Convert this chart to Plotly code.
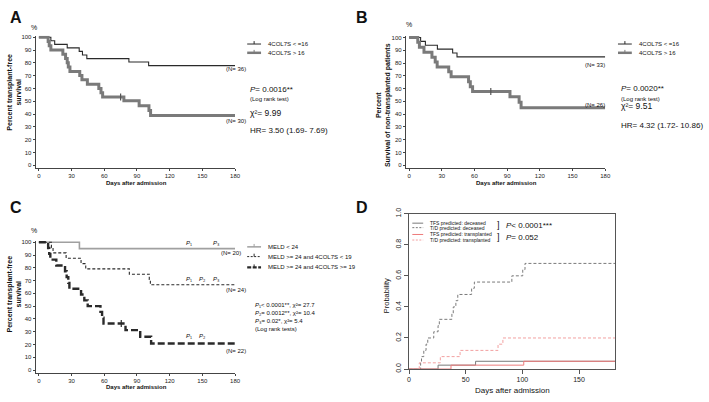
import plotly.graph_objects as go

W, H = 709, 402
FONT = "Liberation Sans, Arial, DejaVu Sans, sans-serif"

# ---------------- data ----------------
# Panel A: transplant-free survival (%)
A_low_t = [0, 11, 14.5, 26, 37, 40, 44, 82.6, 100.7, 180]
A_low_s = [100, 97.2, 94.4, 91.7, 88.9, 86.1, 83.3, 80.6, 77.8, 77.8]
A_high_t = [0, 8.5, 9.5, 11, 22, 24.5, 26, 27, 28.5, 37.5, 39.5, 44.5, 55, 57, 58.5, 78, 92, 101, 102.5, 180]
A_high_s = [100, 96.7, 93.3, 90, 86.7, 83.3, 80, 76.7, 73.3, 70, 66.7, 63.3, 60, 56.7, 53.3, 50.3, 46.5, 42.7, 38.9, 38.9]
A_cens_t = [75]
A_cens_s = [53.3]

# Panel B: survival of non-transplanted patients (%)
B_low_t = [0, 10.6, 15, 26, 40, 44, 180]
B_low_s = [100, 97, 93.9, 90.9, 87.9, 84.8, 84.8]
B_high_t = [0, 8, 9.5, 13.7, 21, 24, 25.8, 36.4, 38.6, 54.6, 56.2, 58.3, 92.6, 101, 102.8, 180]
B_high_s = [100, 96.2, 92.3, 88.5, 84.6, 80.8, 76.9, 73.1, 69.2, 65.4, 61.5, 57.7, 53.6, 49.3, 45, 45]
B_cens_t = [75]
B_cens_s = [57.7]

# Panel C: transplant-free survival by MELD / 4COL7S (%)
C_low_t = [0, 37.2, 180]
C_low_s = [100, 95, 95]
C_mid_t = [0, 11.5, 13, 25, 38.7, 43, 83, 101.3, 102.3, 180]
C_mid_s = [100, 95.8, 91.7, 87.5, 83.3, 79.2, 75, 70.8, 66.7, 66.7]
C_high_t = [0, 8.5, 9.5, 10.5, 16, 24, 25.5, 27, 28, 38.7, 41.7, 44.8, 56.5, 58, 59.3, 79.5, 93, 103, 180]
C_high_s = [100, 95.5, 90.9, 86.4, 81.8, 77.3, 72.7, 68.2, 63.6, 59.1, 54.5, 50, 45.5, 40.9, 36.4, 31.2, 26, 20.8, 20.8]
C_cens_t = [75.6]
C_cens_s = [36.4]

# Panel D: cumulative probability
D_tfs_dec_t = [0, 25.6, 58.7, 181.7]
D_tfs_dec_p = [0, 0.025, 0.05, 0.05]
D_td_dec_t = [0, 10.2, 11, 13, 15, 16.5, 21.8, 25.6, 26.7, 37.8, 39, 41.3, 43, 55.2, 57.6, 90.7, 100.3, 102.3, 181.7]
D_td_dec_p = [0, 0.04, 0.08, 0.12, 0.16, 0.20, 0.24, 0.28, 0.32, 0.36, 0.40, 0.44, 0.48, 0.52, 0.56, 0.60, 0.64, 0.68, 0.68]
D_tfs_tx_t = [0, 37, 101.2, 181.7]
D_tfs_tx_p = [0, 0.025, 0.05, 0.05]
D_td_tx_t = [0, 9, 27.6, 45, 78.5, 82.8, 181.7]
D_td_tx_p = [0, 0.04, 0.08, 0.12, 0.16, 0.2, 0.2]

KM_XTICKS = [0, 30, 60, 90, 120, 150, 180]
KM_YTICKS = list(range(0, 101, 10))
D_XTICKS = [0, 50, 100, 150]
D_YTICKS = [0.0, 0.2, 0.4, 0.6, 0.8, 1.0]

# ---------------- helpers ----------------
def px(x):
    return x / W

def py(y):
    return 1 - y / H

BLACK = "#2a2a2a"
GRAY = "#7a7a7a"
LGRAY = "#a0a0a0"
RED = "#ee7b7b"
RED2 = "#f2a0a0"

fig = go.Figure()

def km(t, s, xa, ya, color, width, dash="solid"):
    fig.add_trace(go.Scatter(x=t, y=s, xaxis=xa, yaxis=ya, mode="lines",
                             line=dict(color=color, width=width, dash=dash, shape="hv"),
                             showlegend=False, hoverinfo="skip"))

def cens(t, s, xa, ya, color):
    fig.add_trace(go.Scatter(x=t, y=s, xaxis=xa, yaxis=ya, mode="markers",
                             marker=dict(symbol="line-ns-open", size=5, color=color,
                                         line=dict(color=color, width=1.2)),
                             showlegend=False, hoverinfo="skip"))

# A
km(A_low_t, A_low_s, "x", "y", BLACK, 1.1)
km(A_high_t, A_high_s, "x", "y", GRAY, 3)
cens(A_cens_t, A_cens_s, "x", "y", "#555")
# B
km(B_low_t, B_low_s, "x2", "y2", BLACK, 1.1)
km(B_high_t, B_high_s, "x2", "y2", GRAY, 3)
cens(B_cens_t, B_cens_s, "x2", "y2", "#555")
# C
km(C_low_t, C_low_s, "x3", "y3", LGRAY, 1.6)
km(C_mid_t, C_mid_s, "x3", "y3", BLACK, 1.1, "3px,2px")
km(C_high_t, C_high_s, "x3", "y3", BLACK, 2.4, "7px,3px")
cens(C_cens_t, C_cens_s, "x3", "y3", BLACK)
# D
km(D_tfs_dec_t, D_tfs_dec_p, "x4", "y4", GRAY, 1)
km(D_td_dec_t, D_td_dec_p, "x4", "y4", GRAY, 1, "3px,2px")
km(D_tfs_tx_t, D_tfs_tx_p, "x4", "y4", RED, 1)
km(D_td_tx_t, D_td_tx_p, "x4", "y4", RED2, 1, "3px,2px")

# ---------------- axes ----------------
def km_axes(x0, y100, y0):
    ppd = (235.7 - 37.3) / 180.0
    ppp = (y0 - y100) / 100.0
    xd = [px(x0 - 2.5 * ppd), px(x0 + 180 * ppd)]
    yd = [py(y0 + 2.0 * ppp), py(y100 - 1.2 * ppp)]
    common = dict(showline=True, linecolor="#444", linewidth=1, ticks="outside",
                  ticklen=2.5, tickwidth=1, tickcolor="#444", showgrid=False,
                  zeroline=False, tickfont=dict(size=6, family=FONT, color="#222"))
    xa = dict(domain=xd, range=[-2.5, 180], tickvals=KM_XTICKS, **common)
    ya = dict(domain=yd, range=[-2.0, 101.2], tickvals=KM_YTICKS, **common)
    return xa, ya

xa1, ya1 = km_axes(37.3, 32, 163.3)
xa2, ya2 = km_axes(411.7, 32.3, 163.3)
xa3, ya3 = km_axes(37.3, 242.3, 373.3)
xa1["anchor"] = "y"; ya1["anchor"] = "x"
xa2["anchor"] = "y2"; ya2["anchor"] = "x2"
xa3["anchor"] = "y3"; ya3["anchor"] = "x3"

xa4 = dict(domain=[px(411.7), px(620)], range=[0, 181.7], anchor="y4",
           tickvals=D_XTICKS, showline=True, mirror=True, linecolor="#555", linewidth=1,
           ticks="outside", ticklen=4, tickcolor="#555", showgrid=False, zeroline=False,
           tickfont=dict(size=7, family=FONT, color="#222"))
ya4 = dict(domain=[py(372.3), py(213)], range=[0, 1], anchor="x4",
           tickvals=D_YTICKS, tickformat=".1f", tickangle=-90,
           showline=True, mirror=True, linecolor="#555", linewidth=1,
           ticks="outside", ticklen=4, tickcolor="#555", showgrid=False, zeroline=False,
           tickfont=dict(size=7, family=FONT, color="#222"))

# ---------------- annotations ----------------
anns = []
def ann(x, y, text, size, xanchor="left", yanchor="middle", color="#111", angle=0,
        align="left", bold=False):
    anns.append(dict(x=px(x), y=py(y), xref="paper", yref="paper", text=text,
                     showarrow=False, xanchor=xanchor, yanchor=yanchor, align=align,
                     textangle=angle,
                     font=dict(size=size, family=FONT, color=color,
                               weight="bold" if bold else "normal")))

def dann(x, y, xr, yr, text, size, yshift=0, xanchor="center"):
    anns.append(dict(x=x, y=y, xref=xr, yref=yr, text=text, showarrow=False,
                     xanchor=xanchor, yanchor="bottom", yshift=yshift,
                     font=dict(size=size, family=FONT, color="#111")))

# panel letters
ann(14, 12, "A", 16, "center", bold=True)
ann(364, 12, "B", 16, "center", bold=True)
ann(14, 207, "C", 16, "center", bold=True)
ann(364, 207, "D", 16, "center", bold=True)

# % labels
ann(32, 22, "%", 7, "center")
ann(412, 19, "%", 7, "center")
ann(32, 230, "%", 7, "center")

# axis titles
ann(12, 88, "Percent transplant-free<br>survival", 7, "center", angle=-90, align="center", bold=True)
ann(386, 102, "Percent<br>Survival of non-transplanted patients", 7, "center", angle=-90, align="center", bold=True)
ann(12, 295, "Percent transplant-free<br>survival", 7, "center", angle=-90, align="center", bold=True)
ann(389, 297, "Probability", 7.5, "center", angle=-90)
ann(136, 182, "Days after admission", 6, "center", bold=True)
ann(510, 182, "Days after admission", 6, "center", bold=True)
ann(136, 391, "Days after admission", 6, "center", bold=True)
ann(516, 394, "Days after admission", 8, "center")

# Panel A text
ann(237, 65, "(N= 36)", 6, "center")
ann(237, 118, "(N= 30)", 6, "center")
ann(249, 86, "<i>P</i>= 0.0016**", 8)
ann(249, 95, "(Log rank test)", 6)
ann(249, 110, "χ²= 9.99", 8.5)
ann(249, 128, "HR= 3.50 (1.69- 7.69)", 8)

# Panel B text
ann(600, 61, "(N= 33)", 6, "center")
ann(600, 102, "(N= 26)", 6, "center")
ann(624, 85, "<i>P</i>= 0.0020**", 8)
ann(624, 95, "(Log rank test)", 6)
ann(624, 103, "χ²= 9.51", 8.5)
ann(624, 123, "HR= 4.32 (1.72- 10.86)", 8)

# Panel C text
ann(232, 253, "(N= 20)", 6, "center")
ann(237, 291, "(N= 24)", 6, "center")
ann(237, 354, "(N= 22)", 6, "center")
ann(254, 307, "<i>P</i>₁< 0.0001**, χ²= 27.7", 6)
ann(254, 315, "<i>P</i>₂= 0.0012**, χ²= 10.4", 6)
ann(254, 323, "<i>P</i>₃= 0.02*, χ²= 5.4", 6)
ann(254, 331, "(Log rank tests)", 6)
for d, lab in [(138, "₁"), (163, "₃")]:
    dann(d, 95, "x3", "y3", "<i>P</i>" + lab, 6, 1)
for d, lab in [(138, "₁"), (150, "₂"), (163, "₃")]:
    dann(d, 66.7, "x3", "y3", "<i>P</i>" + lab, 6, 1)
for d, lab in [(138, "₁"), (150, "₂")]:
    dann(d, 20.8, "x3", "y3", "<i>P</i>" + lab, 6, 2)

# Panel D text
ann(502, 225, "]", 9, "center")
ann(508, 225, "<i>P</i>< 0.0001***", 8)
ann(502, 237, "]", 9, "center")
ann(508, 237, "<i>P</i>= 0.052", 8)

# ---------------- manual legends ----------------
shapes = []
def lline(x0, x1, y, color, width, dash="solid", tick=False):
    shapes.append(dict(type="line", xref="paper", yref="paper", x0=px(x0), x1=px(x1),
                       y0=py(y), y1=py(y), line=dict(color=color, width=width, dash=dash)))
    if tick:
        xm = (x0 + x1) / 2
        shapes.append(dict(type="line", xref="paper", yref="paper", x0=px(xm), x1=px(xm),
                           y0=py(y), y1=py(y - 3), line=dict(color=color, width=1)))

# A legend
lline(248, 262, 39, BLACK, 1, tick=True)
lline(248, 262, 48, GRAY, 2.5, tick=True)
ann(267, 39, "4COL7S < =16", 6)
ann(267, 48, "4COL7S > 16", 6)
# B legend
lline(623, 637, 39, BLACK, 1, tick=True)
lline(623, 637, 48, GRAY, 2.5, tick=True)
ann(642, 39, "4COL7S < =16", 6)
ann(642, 48, "4COL7S > 16", 6)
# C legend
lline(248, 262, 247, LGRAY, 1.5, tick=True)
lline(248, 262, 257, BLACK, 1, "2px,1.5px", tick=True)
lline(248, 262, 268, BLACK, 2.2, "4px,1.5px", tick=True)
ann(267, 247, "MELD < 24", 6)
ann(267, 257, "MELD >= 24 and 4COL7S < 19", 6)
ann(267, 268, "MELD >= 24 and 4COL7S >= 19", 6)
# D legend
lline(415, 426, 222.7, GRAY, 1)
lline(415, 426, 227.3, GRAY, 1, "2px,1.5px")
lline(415, 426, 234.3, RED, 1)
lline(415, 426, 240, RED2, 1, "2px,1.5px")
ann(431, 222.7, "TFS predicted: deceased", 5)
ann(431, 227.3, "T/D predicted: deceased", 5)
ann(431, 234.3, "TFS predicted: transplanted", 5)
ann(431, 240, "T/D predicted: transplanted", 5)

fig.update_layout(
    width=W, height=H, margin=dict(l=0, r=0, t=0, b=0),
    paper_bgcolor="white", plot_bgcolor="white", showlegend=False,
    font=dict(family=FONT, color="#111"),
    xaxis=xa1, yaxis=ya1, xaxis2=xa2, yaxis2=ya2,
    xaxis3=xa3, yaxis3=ya3, xaxis4=xa4, yaxis4=ya4,
    annotations=anns, shapes=shapes,
)

fig.write_html("out.html", config={"displayModeBar": False},
               post_script="document.body.style.margin='0';document.body.style.padding='0';")
